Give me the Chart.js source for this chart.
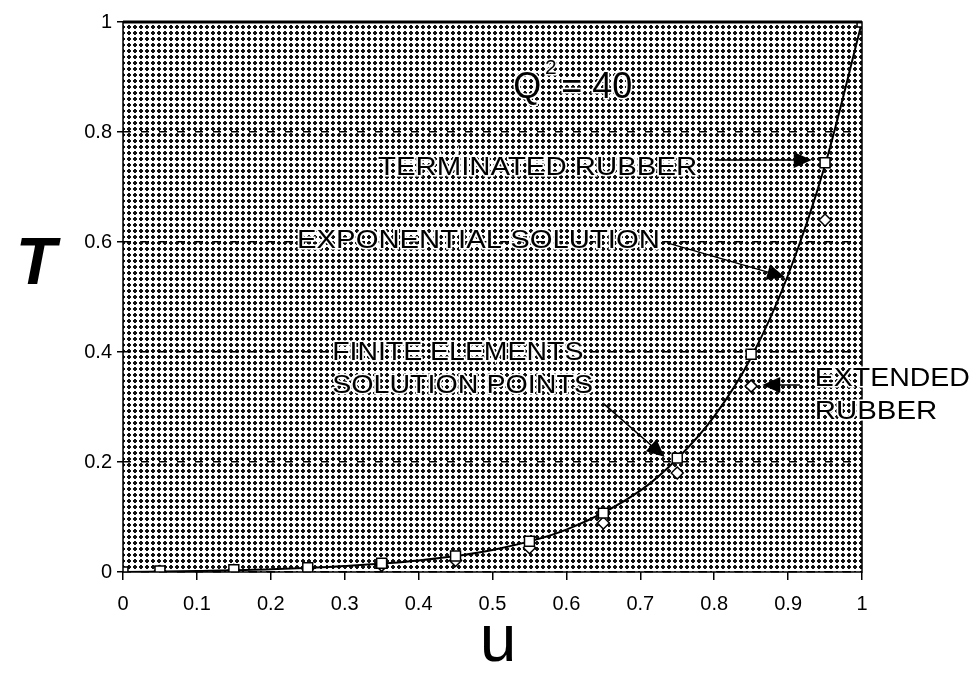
<!DOCTYPE html>
<html>
<head>
<meta charset="utf-8">
<script src="https://cdn.jsdelivr.net/npm/chart.js@4"></script>
<style>
  html, body { margin: 0; padding: 0; background: #fff; }
</style>
</head>
<body>
<canvas id="tension-chart" width="975" height="681"></canvas>
<script>
// tick labels
const uTicks = [0, 0.1, 0.2, 0.3, 0.4, 0.5, 0.6, 0.7, 0.8, 0.9, 1];
const tTicks = [0, 0.2, 0.4, 0.6, 0.8, 1];

// finite element nodes, terminated rubber (squares)
const nodeU = [0, 0.05, 0.15, 0.25, 0.35, 0.45, 0.55, 0.65, 0.75, 0.85, 0.95, 1];
const terminatedT = [0, 0.002, 0.004, 0.008, 0.016, 0.029, 0.056, 0.107, 0.207, 0.396, 0.744, 1];

// extended rubber (diamonds)
const extendedU = [0.05, 0.15, 0.25, 0.35, 0.45, 0.55, 0.65, 0.75, 0.85, 0.95];
const extendedT = [0.001, 0.003, 0.006, 0.012, 0.021, 0.044, 0.089, 0.18, 0.338, 0.64];

// exponential solution
const curveU = [0, 0.1, 0.2, 0.3, 0.4, 0.5, 0.6, 0.7, 0.75, 0.8, 0.85, 0.9, 0.95, 1];
const curveT = [0, 0.002, 0.005, 0.011, 0.021, 0.04, 0.077, 0.148, 0.206, 0.283, 0.39, 0.54, 0.74, 1];

const FONT = "'Liberation Sans', Arial, Helvetica, sans-serif";

// labels: left u, middle T, width in u units
const labels = [
    { text: 'TERMINATED RUBBER', u: 0.345, t: 0.7355, w: 0.432, size: 26 },
    { text: 'EXPONENTIAL SOLUTION', u: 0.2355, t: 0.602, w: 0.491, size: 26 },
    { text: 'FINITE ELEMENTS', u: 0.283, t: 0.399, w: 0.340, size: 26 },
    { text: 'SOLUTION POINTS', u: 0.283, t: 0.338, w: 0.353, size: 26 },
    { text: 'EXTENDED', u: 0.936, t: 0.351, w: 0.210, size: 26 },
    { text: 'RUBBER', u: 0.936, t: 0.291, w: 0.166, size: 26 }
];

// arrows: from (u0,t0) to tip (u1,t1)
const arrows = [
    [0.801, 0.749, 0.932, 0.749],
    [0.7375, 0.598, 0.896, 0.536],
    [0.6495, 0.307, 0.733, 0.209],
    [0.916, 0.340, 0.865, 0.340]
];

// stipple fill of the plot area
function makePattern(ctx) {
    const tile = document.createElement('canvas');
    tile.width = 6; tile.height = 6;
    const t = tile.getContext('2d');
    t.fillStyle = '#fff';
    t.fillRect(0, 0, 6, 6);
    t.fillStyle = '#111';
    t.fillRect(1, 2, 4, 2);
    t.fillRect(2, 1, 2, 4);
    return ctx.createPattern(tile, 'repeat');
}

function haloText(ctx, text, x, y) {
    ctx.lineWidth = 3;
    ctx.strokeStyle = '#fff';
    ctx.strokeText(text, x, y);
    ctx.fillStyle = '#000';
    ctx.fillText(text, x, y);
}

const decorations = {
    id: 'decorations',
    beforeDraw(chart) {
        const { ctx, chartArea: a } = chart;
        ctx.save();
        ctx.fillStyle = '#fff';
        ctx.fillRect(0, 0, chart.width, chart.height);
        ctx.fillStyle = makePattern(ctx);
        ctx.fillRect(a.left, a.top, a.right - a.left, a.bottom - a.top);
        ctx.restore();
    },
    afterDraw(chart) {
        const { ctx, chartArea: a } = chart;
        const xs = chart.scales.x, ys = chart.scales.y;
        ctx.save();

        // frame
        ctx.strokeStyle = '#000';
        ctx.lineWidth = 1.5;
        ctx.strokeRect(a.left, a.top, a.right - a.left, a.bottom - a.top);
        ctx.lineWidth = 3;
        ctx.beginPath();
        ctx.moveTo(a.left, a.top);
        ctx.lineTo(a.right, a.top);
        ctx.stroke();

        // arrows
        ctx.fillStyle = '#000';
        arrows.forEach(([u0, t0, u1, t1]) => {
            const x0 = xs.getPixelForValue(u0), y0 = ys.getPixelForValue(t0);
            const x1 = xs.getPixelForValue(u1), y1 = ys.getPixelForValue(t1);
            const ang = Math.atan2(y1 - y0, x1 - x0);
            ctx.lineWidth = 1.5;
            ctx.beginPath();
            ctx.moveTo(x0, y0);
            ctx.lineTo(x1 - 10 * Math.cos(ang), y1 - 10 * Math.sin(ang));
            ctx.stroke();
            const len = 18, half = 8;
            const bx = x1 - len * Math.cos(ang), by = y1 - len * Math.sin(ang);
            ctx.beginPath();
            ctx.moveTo(x1, y1);
            ctx.lineTo(bx + half * Math.sin(ang), by - half * Math.cos(ang));
            ctx.lineTo(bx - half * Math.sin(ang), by + half * Math.cos(ang));
            ctx.closePath();
            ctx.fill();
        });

        // labels
        ctx.textBaseline = 'middle';
        ctx.textAlign = 'left';
        labels.forEach(l => {
            const x = xs.getPixelForValue(l.u), y = ys.getPixelForValue(l.t);
            const w = xs.getPixelForValue(l.u + l.w) - x;
            ctx.font = l.size + 'px ' + FONT;
            const natural = ctx.measureText(l.text).width;
            ctx.save();
            ctx.translate(x, y);
            ctx.scale(w / natural, 1);
            haloText(ctx, l.text, 0, 0);
            ctx.restore();
        });

        // Q^2 = 40
        ctx.textBaseline = 'alphabetic';
        ctx.font = '36px ' + FONT;
        const qy = ys.getPixelForValue(0.862);
        haloText(ctx, 'Q', xs.getPixelForValue(0.528), qy);
        ctx.font = '21px ' + FONT;
        haloText(ctx, '2', xs.getPixelForValue(0.571), ys.getPixelForValue(0.905));
        ctx.font = '36px ' + FONT;
        haloText(ctx, '= 40', xs.getPixelForValue(0.593), qy);

        // axis titles
        ctx.fillStyle = '#000';
        ctx.textAlign = 'center';
        ctx.textBaseline = 'middle';
        ctx.font = 'italic bold 66px ' + FONT;
        ctx.fillText('T', 36, 266);
        ctx.font = '66px ' + FONT;
        ctx.fillText('u', 498, 643);
        ctx.restore();
    }
};

const tickFont = { family: FONT, size: 20 };

new Chart(
    document.getElementById('tension-chart'),
    {
        type: 'scatter',
        data: {
            datasets: [
                {
                    label: 'Terminated rubber',
                    data: nodeU.map((u, i) => ({ x: u, y: terminatedT[i] })),
                    pointStyle: 'rect',
                    pointRadius: 7,
                    backgroundColor: '#fff',
                    borderColor: '#000',
                    borderWidth: 1.5,
                    showLine: false,
                    order: 0
                },
                {
                    label: 'Extended rubber',
                    data: extendedU.map((u, i) => ({ x: u, y: extendedT[i] })),
                    pointStyle: 'rectRot',
                    pointRadius: 6,
                    backgroundColor: '#fff',
                    borderColor: '#000',
                    borderWidth: 1.5,
                    showLine: false,
                    order: 1
                },
                {
                    label: 'Exponential solution',
                    data: curveU.map((u, i) => ({ x: u, y: curveT[i] })),
                    showLine: true,
                    pointRadius: 0,
                    borderColor: '#000',
                    borderWidth: 2,
                    cubicInterpolationMode: 'monotone',
                    order: 2
                }
            ]
        },
        options: {
            responsive: false,
            animation: false,
            layout: { padding: { top: 22, right: 113, left: 0, bottom: 0 } },
            plugins: {
                legend: { display: false },
                tooltip: { enabled: false }
            },
            scales: {
                x: {
                    type: 'linear',
                    min: 0,
                    max: 1,
                    afterBuildTicks: s => { s.ticks = uTicks.map(v => ({ value: v })); },
                    afterFit: s => { s.height = 109; },
                    ticks: {
                        font: tickFont,
                        color: '#000',
                        padding: 12,
                        maxRotation: 0,
                        autoSkip: false,
                        callback: v => String(v)
                    },
                    grid: { drawOnChartArea: false, tickLength: 8, color: '#000', lineWidth: 1.5 },
                    border: { display: false }
                },
                y: {
                    type: 'linear',
                    min: 0,
                    max: 1,
                    afterBuildTicks: s => { s.ticks = tTicks.map(v => ({ value: v })); },
                    afterFit: s => { s.width = 123; },
                    ticks: {
                        font: tickFont,
                        color: '#000',
                        padding: 5,
                        autoSkip: false,
                        callback: v => String(v)
                    },
                    grid: {
                        color: '#000',
                        lineWidth: 1.5,
                        tickLength: 6,
                        tickBorderDash: [],
                        tickColor: '#000'
                    },
                    border: { display: false, dash: [8, 10] }
                }
            }
        },
        plugins: [decorations]
    }
);
</script>
</body>
</html>
